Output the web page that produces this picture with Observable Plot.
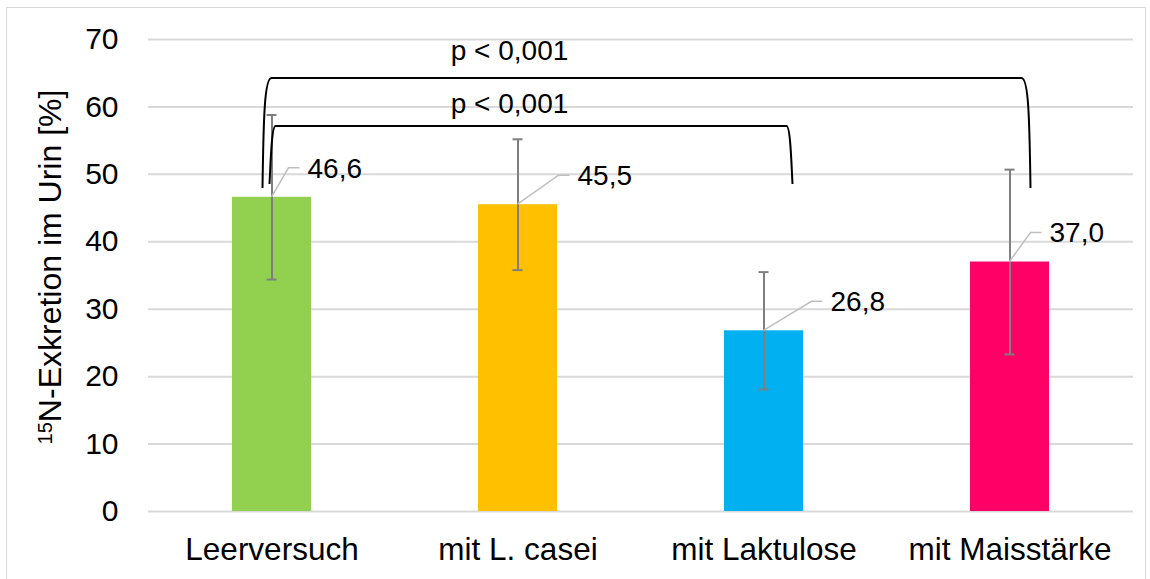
<!DOCTYPE html>
<html>
<head>
<meta charset="utf-8">
<script src="https://cdn.jsdelivr.net/npm/d3@7"></script>
<script src="https://cdn.jsdelivr.net/npm/@observablehq/plot@0.6"></script>
<style>
  body { margin: 0; background: #fff; }
  #wrap { position: relative; width: 1150px; height: 579px; overflow: hidden; background: #fff; }
  #frame { position: absolute; left: 6px; top: 7px; width: 1140px; height: 620px; border: 1.5px solid #d9d9d9; box-sizing: border-box; }
  #chart { position: absolute; left: 0; top: 0; }
</style>
</head>
<body>
<div id="wrap"><div id="frame"></div><div id="chart"></div></div>
<script>
// ---- data ----
const categories = ["Leerversuch", "mit L. casei", "mit Laktulose", "mit Maisstärke"];
const means = [46.6, 45.5, 26.8, 37.0];
const sds = [12.2, 9.7, 8.7, 13.7];
const valueLabels = ["46,6", "45,5", "26,8", "37,0"];
const colors = ["#92d050", "#ffc000", "#00b0f0", "#ff0066"];
const yTicks = [0, 10, 20, 30, 40, 50, 60, 70];
const bracketFrom = ["Leerversuch", "Leerversuch"];
const bracketTo = ["mit Maisstärke", "mit Laktulose"];
const bracketTop = [64.2, 57.1];
const bracketFoot = [47.9, 48.5];
const bracketText = ["p < 0,001", "p < 0,001"];
const bracketTextY = [68.4, 60.5];
const yLabelSup = "15";
const yLabelMain = "N-Exkretion im Urin [%]";

// ---- layout (pixels) ----
const FONT = "Arial, 'Liberation Sans', sans-serif";
const labelElbowDx = [17, 41, 48, 21];
const labelElbowDy = -29;
const bracketLeftDx = [-9, -2];
const bracketRightDx = [21, 29];
const bracketCorner = [9, 6];

const data = categories.map((c, i) => ({
  cat: c, mean: means[i], lo: means[i] - sds[i], hi: means[i] + sds[i],
  label: valueLabels[i], color: colors[i]
}));

function cx(scales, c) { return scales.x(c) + scales.x.bandwidth() / 2; }

function bracketsMark(I, scales) {
  const g = d3.create("svg:g");
  bracketFrom.forEach((f, i) => {
    const xl = cx(scales, f) + bracketLeftDx[i];
    const xr = cx(scales, bracketTo[i]) + bracketRightDx[i];
    const yt = scales.y(bracketTop[i]), yf = scales.y(bracketFoot[i]);
    const r = bracketCorner[i];
    const p = d3.path();
    p.moveTo(xl, yf);
    p.bezierCurveTo(xl + 1, yt + 40, xl + 2, yt, xl + r, yt);
    p.lineTo(xr - r, yt);
    p.bezierCurveTo(xr - 2, yt, xr - 1, yt + 40, xr, yf);
    g.append("path").attr("d", p.toString()).attr("fill", "none")
      .attr("stroke", "#000").attr("stroke-width", 2);
    g.append("text")
      .attr("x", cx(scales, categories[1]) - 8)
      .attr("y", scales.y(bracketTextY[i]))
      .attr("dy", "0.35em")
      .attr("text-anchor", "middle")
      .attr("font-size", 28)
      .attr("font-family", FONT)
      .attr("fill", "#000")
      .text(bracketText[i]);
  });
  return g.node();
}

function valueLabelMark(I, scales) {
  const g = d3.create("svg:g");
  data.forEach((d, i) => {
    const x0 = cx(scales, d.cat), y0 = scales.y(d.mean);
    const xe = x0 + labelElbowDx[i], ye = y0 + labelElbowDy;
    g.append("path")
      .attr("d", `M${x0},${y0}L${xe},${ye}L${xe + 11},${ye}`)
      .attr("fill", "none").attr("stroke", "#bfbfbf").attr("stroke-width", 1.5);
    g.append("text")
      .attr("x", xe + 19).attr("y", ye).attr("dy", "0.35em")
      .attr("text-anchor", "start")
      .attr("font-size", 28).attr("font-family", FONT).attr("fill", "#000")
      .text(d.label);
  });
  return g.node();
}

function yLabelMark(I, scales, values, dims) {
  const g = d3.create("svg:g");
  const yc = (dims.marginTop + dims.height - dims.marginBottom) / 2 - 8;
  const t = g.append("text")
    .attr("transform", `translate(61,${yc}) rotate(-90)`)
    .attr("text-anchor", "middle")
    .attr("font-size", 32).attr("font-family", FONT).attr("fill", "#000");
  t.append("tspan").attr("font-size", 20).attr("dy", -9).text(yLabelSup);
  t.append("tspan").attr("dy", 9).text(yLabelMain);
  return g.node();
}

const plot = Plot.plot({
  width: 1150,
  height: 579,
  marginLeft: 148,
  marginRight: 17,
  marginTop: 39,
  marginBottom: 68,
  style: { fontFamily: FONT, background: "transparent", overflow: "visible" },
  x: { domain: categories, paddingInner: 0.68, paddingOuter: 0.34, label: null },
  y: { domain: [0, 70], label: null },
  color: { type: "identity" },
  marks: [
    Plot.gridY(yTicks, { stroke: "#d9d9d9", strokeOpacity: 1, strokeWidth: 2 }),
    Plot.axisY(yTicks, { tickSize: 0, tickPadding: 30, fontSize: 30, label: null, tickFormat: d => String(d) }),
    Plot.axisX({ tickSize: 0, tickPadding: 26, fontSize: 31.5, label: null }),
    Plot.barY(data, { x: "cat", y: "mean", fill: "color" }),
    Plot.ruleX(data, { x: "cat", y1: "lo", y2: "hi", stroke: "#7f7f7f", strokeWidth: 2 }),
    Plot.tickY(data, { x: "cat", y: "hi", stroke: "#7f7f7f", strokeWidth: 2, insetLeft: 34.5, insetRight: 34.5 }),
    Plot.tickY(data, { x: "cat", y: "lo", stroke: "#7f7f7f", strokeWidth: 2, insetLeft: 34.5, insetRight: 34.5 }),
    valueLabelMark,
    bracketsMark,
    yLabelMark
  ]
});
document.getElementById("chart").appendChild(plot);
</script>
</body>
</html>
